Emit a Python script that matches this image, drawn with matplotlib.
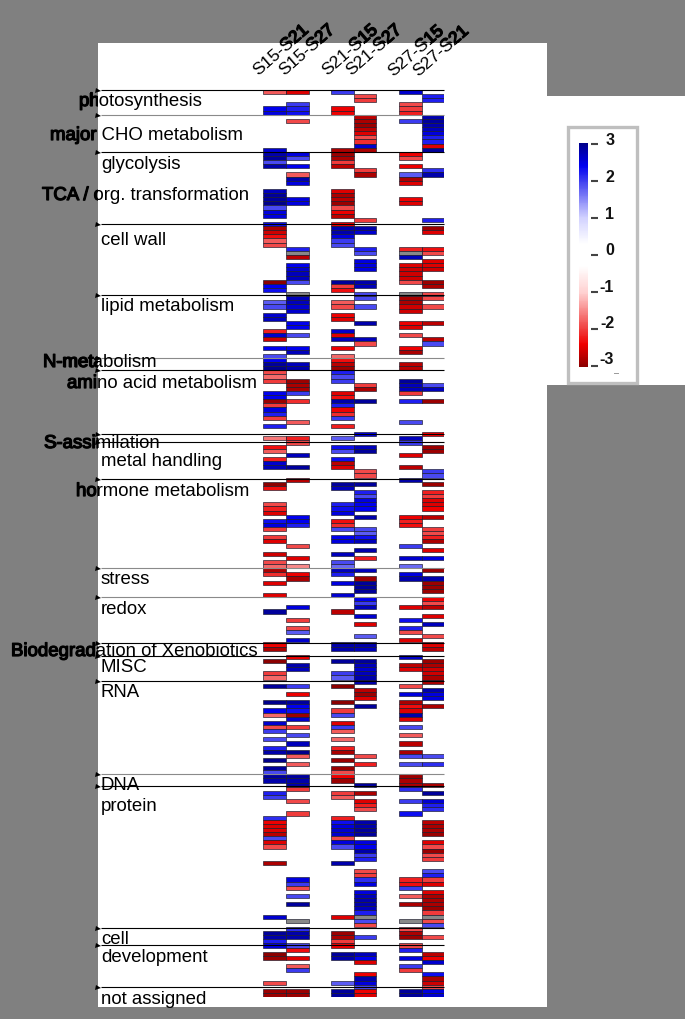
import numpy as np
import matplotlib
matplotlib.use("Agg")
import matplotlib.pyplot as plt
import matplotlib.patheffects as pe
from matplotlib.cm import ScalarMappable
from matplotlib.colors import LinearSegmentedColormap, Normalize
from matplotlib.patches import Rectangle

# ---- Config ----
OUTPUT_FIG = "out.png"
W, H = 685, 1019
nan = np.nan

plt.rcParams["font.family"] = ["Liberation Sans", "DejaVu Sans"]

# ---- Data: (row, log ratio) per comparison, empty rows are not listed ----
COMPARISONS = ["S15-S21", "S15-S27", "S21-S15", "S21-S27", "S27-S15", "S27-S21"]
COMPARISON_SLOTS = [0, 1, 3, 4, 6, 7]
N_ROWS = 220

S15_S21 = [(0,-1.8),(4,2.4),(5,2.5),(14,2.6),(15,2.8),(16,2.9),(17,1.9),(18,2.8),(24,2.7),(25,2.9),(26,2.9),(27,3),(28,1.9),(29,2.5),(30,2.5),
    (32,2.3),(33,-2.8),(34,-2.6),(35,-2.3),(36,-1.8),(37,-1.9),(46,-3),(47,2.4),(48,2.3),(51,1.8),(52,1.9),(54,2.6),(55,2.7),(58,-2.2),(59,2.6),(60,-2.6),
    (62,2.4),(64,1.9),(65,2.4),(66,2.9),(67,3),(68,-1.9),(69,-1.7),(70,-2),(73,2.4),(74,2.4),(75,-2.9),(76,-2),(77,2.5),(78,2.2),(79,-2),(81,2.2),(84,-1.6),
    (86,-2.3),(87,-1.8),(89,-2.2),(90,2.6),(91,2.7),(95,-3),(96,-2.3),(100,-1.9),(101,-2.2),(102,-2.5),(104,2.3),(105,2.5),(106,-2),(108,-2),(109,-2.5),
    (112,-2.6),(114,-1.9),(115,-1.7),(116,-2.8),(117,-2.1),(119,-2.5),(122,-2.5),(126,2.9),(134,-2.4),(135,-2.8),(138,-3),(141,-2),(142,-1.7),(144,2.9),
    (148,3),(150,2.4),(151,-1.7),(153,2.6),(154,-1.9),(155,2),(157,1.9),(159,2.2),(160,2.8),(162,3),(164,2.9),(165,1.9),(166,2.9),(167,2.8),(170,2.2),(171,2),
    (176,2.1),(177,-2.4),(178,-2.5),(179,-2.5),(180,-2.7),(181,1.9),(182,-2.5),(183,-1.9),(187,-2.8),(200,2.6),(204,2.9),(205,2.8),(206,2.2),(207,2.5),
    (209,-3),(210,-2.9),(216,-1.9),(218,-2.9),(219,-2.9)]

S15_S27 = [(0,-2.5),(3,2),(4,2.2),(5,2.3),(7,-1.9),(15,2.5),(16,1.9),(18,2.4),(20,-1.8),(21,2.8),(22,2.5),(26,2.5),(27,2.5),(38,2.2),(39,nan),(40,-2.7),
    (42,2.4),(43,2.6),(44,2.7),(45,2.7),(46,1.9),(49,nan),(50,2.7),(51,2.7),(52,2.6),(53,2.6),(56,2.4),(57,2.4),(59,1.9),(62,2.4),(63,2.7),(66,2.7),(67,2.8),
    (70,-2.9),(71,-2.8),(72,-2.8),(73,2),(75,-2.1),(80,-1.8),(84,-2.2),(85,-1.9),(88,2.7),(91,2.9),(94,-2.7),(103,2.4),(104,2.4),(105,2.2),(110,-1.9),(113,-2.5),
    (115,-1.5),(117,-2.4),(118,-2.8),(125,2.5),(128,-2),(130,-1.9),(131,1.8),(133,2.6),(137,-2.4),(139,2.8),(140,2.7),(144,2),(146,-2.4),(148,2.9),(149,2.4),
    (150,2.3),(151,-2.9),(152,2.6),(154,-2),(156,1.9),(158,2.7),(160,3),(161,-1.8),(163,-1.8),(166,2.9),(167,2.8),(168,2.8),(169,-2),(172,-1.9),(175,-2),
    (191,2.5),(192,2),(193,-1.9),(195,1.9),(197,2.9),(201,nan),(203,2.1),(204,2.8),(205,2.8),(207,1.9),(208,-2.3),(210,-2.5),(212,-1.8),(213,2),(218,-2.9),(219,-2.9)]

S21_S15 = [(0,2),(4,-2.4),(5,-2.4),(14,-2.8),(15,-2.9),(16,-2.8),(17,-2),(18,-2.7),(24,-2.5),(25,-2.8),(26,-2.7),(27,-2.9),(28,-1.9),(29,-2.4),(30,-2.7),
    (32,-2.4),(33,2.8),(34,2.8),(35,2.5),(36,2),(37,1.9),(46,2.9),(47,-2),(48,-2.3),(51,-1.8),(52,-1.9),(54,-2.4),(55,-2.5),(58,2.6),(59,-2.5),(60,2.7),(62,-2.4),
    (64,-1.7),(65,-2.3),(66,-2.7),(67,-2.9),(68,2.2),(69,1.9),(70,2),(73,-2.5),(74,-2.3),(75,2.8),(76,2.2),(77,-2.4),(78,-2.1),(79,2),(81,-2.2),(84,1.8),
    (86,2.3),(87,1.9),(89,2.3),(90,-2.7),(91,-2.5),(95,2.9),(96,2.7),(100,2.2),(101,2.3),(102,2.5),(104,-2.3),(105,-2.1),(106,1.9),(108,2.4),(109,2.5),
    (112,2.7),(114,1.9),(115,1.7),(116,2.7),(117,2.2),(119,2.5),(122,2.6),(126,-2.7),(134,2.8),(135,2.8),(138,2.9),(141,2),(142,1.8),(144,-3),(148,-3),
    (150,-2),(151,1.9),(153,-2.5),(154,2),(155,-1.8),(157,-1.7),(159,-2.2),(160,-2.8),(162,-2.9),(164,-2.9),(165,-1.9),(166,-2.4),(167,-2.9),(170,-2),(171,-1.8),
    (176,-2.2),(177,2.3),(178,2.5),(179,2.6),(180,2.6),(181,-1.9),(182,2.5),(183,1.9),(187,2.8),(200,-2.5),(204,-2.9),(205,-2.8),(206,-2),(207,-2.4),
    (209,2.9),(210,2.8),(216,1.8),(218,2.9),(219,2.9)]

S21_S27 = [(1,-1.9),(2,-2),(6,-2.7),(7,-2.8),(8,-2.9),(9,-2.7),(10,-2.5),(11,-1.9),(12,-2.1),(13,2.6),(14,-2.8),(19,-2),(20,-2.8),(31,-2),(33,2.8),(34,2.6),
    (38,2.2),(39,1.9),(41,2.5),(42,2.5),(43,2.5),(46,2.8),(47,2.7),(49,1.9),(50,1.9),(52,1.9),(56,2.8),(60,2.7),(61,-1.9),(71,-2),(72,-2.8),(75,2.9),(83,2.5),
    (86,2.7),(87,2.9),(92,-1.9),(93,-1.9),(95,2.9),(97,2.2),(98,1.9),(99,2.5),(100,2.4),(101,2.4),(103,2.8),(106,1.9),(107,1.8),(108,2.3),(109,2.7),(111,2.8),
    (113,-2.2),(116,2.7),(118,-2.9),(119,2.9),(120,2.9),(121,2.9),(123,2.4),(124,2),(125,2.7),(127,2.6),(129,-2.5),(132,1.8),(134,2.8),(135,2.7),
    (138,2.9),(139,2.7),(140,2.6),(141,2.7),(142,2.8),(143,2.8),(145,-2.7),(146,-2.9),(147,-2.5),(149,2.9),(161,-1.9),(163,-2.2),(168,2.9),(170,-2.8),
    (172,-2.5),(173,-2.2),(174,-1.9),(177,2.8),(178,2.8),(179,2.9),(180,2.9),(182,2.5),(183,2.4),(184,2.8),(185,2),(186,2.2),(189,-1.9),(190,-2),(191,2.1),(192,2.5),
    (194,2.5),(195,2.7),(196,2.8),(197,2.8),(198,2.7),(199,2.2),(200,nan),(201,1.9),(202,-1.9),(205,2),(209,2.7),(210,2.4),(211,-2.5),
    (214,-2.4),(215,2.8),(216,2.5),(217,1.9),(218,-2.4),(219,-2.5)]

S27_S15 = [(0,2.6),(3,-1.9),(4,-2),(5,-2.2),(7,2),(15,-2.4),(16,-1.9),(18,-2.4),(20,1.8),(21,-2.8),(22,-2.5),(26,-2.4),(27,-2.5),(38,-2.2),(39,nan),(40,2.7),
    (42,-2.5),(43,-2.6),(44,-2.6),(45,-2.6),(46,-1.9),(49,nan),(50,-2.8),(51,-2.8),(52,-2.6),(53,-2.6),(56,-2.4),(57,-2.5),(59,-1.9),(62,-2.4),(63,-2.8),(66,-2.7),(67,-2.7),
    (70,2.9),(71,2.7),(72,2.7),(73,-2),(75,2.2),(80,1.9),(84,2.7),(85,2),(88,-2.5),(91,-2.7),(94,2.8),(103,-2.4),(104,-2.2),(105,-2.3),(110,2),(113,2.6),(115,1.7),
    (117,2.5),(118,2.8),(125,-2.5),(128,2.3),(130,2.2),(131,-1.9),(133,-2.5),(137,2.6),(139,-2.7),(140,-2.5),(144,-1.9),(146,2.5),(148,-2.8),(149,-2.3),(150,-2.5),
    (151,2.8),(152,-2.5),(154,1.9),(156,-1.8),(158,-2.7),(160,-2.8),(161,1.9),(163,1.9),(166,-2.9),(167,-2.8),(168,-2.8),(169,2.1),(172,2),(175,2.3),
    (191,-2.2),(192,-2.3),(193,2),(195,-1.8),(197,-2.8),(201,nan),(203,-1.9),(204,-2.8),(205,-2.9),(207,-1.9),(208,2.2),(210,2.5),(212,2),(213,-2),(218,2.9),(219,2.9)]

S27_S21 = [(1,2.2),(2,2.2),(6,2.8),(7,2.9),(8,2.8),(9,2.7),(10,2.5),(11,2.2),(12,2.2),(13,-2.5),(14,2.9),(19,2.1),(20,2.8),(31,2.2),(33,-2.9),(34,-2.5),
    (38,-2.3),(39,-1.9),(41,-2.5),(42,-2.5),(43,-2.6),(46,-2.9),(47,-2.8),(49,-1.9),(50,-1.9),(52,-1.9),(56,-2.7),(60,-2.7),(61,1.9),(71,1.9),(72,2.7),(75,-2.9),(83,-2.4),
    (86,-2.9),(87,-2.9),(92,2),(93,1.9),(95,-2.9),(97,-2.2),(98,-2),(99,-2.5),(100,-2.5),(101,-2.4),(103,-2.7),(106,-2),(107,-1.9),(108,-2.2),(109,-2.8),(111,-2.5),
    (113,2.5),(116,-2.9),(118,2.8),(119,-2.9),(120,-2.9),(121,-2.9),(123,-2.4),(124,-1.9),(125,-2.7),(127,-2.5),(129,2.7),(132,-1.9),(134,-2.5),(135,-2.7),
    (138,-2.9),(139,-2.8),(140,-2.6),(141,-2.6),(142,-2.8),(143,-2.8),(145,2.8),(146,2.5),(147,2.5),(149,-2.8),(161,1.9),(163,2.1),(168,-2.8),(170,2.9),
    (172,2.6),(173,2.2),(174,2.1),(177,-2.7),(178,-2.8),(179,-2.8),(180,-2.9),(182,-2.5),(183,-1.9),(184,-2.9),(185,-1.9),(186,-2),(189,1.9),(190,2.2),(191,-2),(192,-2.5),
    (194,-2.5),(195,-2.8),(196,-2.8),(197,-2.8),(198,-2.9),(199,-2),(200,nan),(201,-1.9),(202,1.9),(205,-1.9),(209,-2.7),(210,-2.4),(211,2.6),
    (214,2.3),(215,-2.8),(216,-2.6),(217,-1.9),(218,2.5),(219,2.6)]

COLUMNS = [S15_S21, S15_S27, S21_S15, S21_S27, S27_S15, S27_S21]

# ---- Categories ----
CATEGORY_LABELS = ["photosynthesis", "major CHO metabolism", "glycolysis", "TCA / org. transformation", "cell wall",
    "lipid metabolism", "N-metabolism", "amino acid metabolism", "S-assimilation", "metal handling", "hormone metabolism",
    "stress", "redox", "Biodegradation of Xenobiotics", "MISC", "RNA", "DNA", "protein", "cell", "development", "not assigned"]
LABEL_X = [79, 50, 101, 42, 101, 101, 43, 67, 44, 101, 76, 101, 101, 11, 101, 101, 101, 101, 101, 101, 101]
LABEL_BASE = [106, 140, 169, 200, 245, 311, 367, 388, 448, 466, 496, 584, 614, 656, 672, 697, 790, 811, 944, 962, 1004]
RULE_Y = [90, 115, 152, 224, 295, 358, 370, 434, 442, 479, 568, 597, 643, 656, 681, 774, 786, 928, 945, 987]
RULE_GREY = [115, 358, 568, 597, 774]

HEADER_X = [258, 284, 327, 351, 393, 418]
HEADER_Y = [76, 76, 76, 76, 77, 77]

LEGEND_TICKS = [3, 2, 1, 0, -1, -2, -3]
LEGEND_LABEL_X = [610, 610, 610, 610, 607, 608, 607]
LEGEND_LABEL_Y = [140, 177, 214, 250, 287, 324, 359]


def add_px_axes(fig, left, top, right, bottom, zorder):
    # axes placed with pixel edges measured from the top-left corner
    ax = fig.add_axes([left / W, 1 - bottom / H, (right - left) / W, (bottom - top) / H], zorder=zorder)
    ax.patch.set_alpha(0)
    return ax


def main():
    fig = plt.figure(figsize=(W / 100, H / 100), dpi=100, facecolor="#808080")

    # white stays flat around zero, key is pale up to +-1
    cmap = LinearSegmentedColormap.from_list(
        "rwb",
        [(0, "#8b0000"), (0.1, "#f00000"), (0.17, "#f04040"), (0.33, "#ffd0d0"), (0.45, "#ffffff"),
         (0.55, "#ffffff"), (0.67, "#d0d0ff"), (0.83, "#4040f0"), (0.9, "#0000f0"), (1, "#00008b")],
    )
    cmap.set_bad("#888888")
    norm = Normalize(-3, 3)

    # 1) Page: white panels behind everything
    page = add_px_axes(fig, 0, 0, W, H, 0)
    page.set_xlim(0, W)
    page.set_ylim(H, 0)
    page.axis("off")
    page.add_patch(Rectangle((98, 43), 449, 964, facecolor="white", edgecolor="none"))
    page.add_patch(Rectangle((547, 96), 138, 289, facecolor="white", edgecolor="none"))
    page.add_patch(Rectangle((568, 127), 69, 256, facecolor="white", edgecolor="#bfbfbf", linewidth=2.4))

    # 2) Heat map cells
    heat = add_px_axes(fig, 263.3, 90, 444.1, 997, 1)
    heat.set_xlim(0, 8)
    heat.set_ylim(N_ROWS, 0)
    heat.axis("off")
    for slot, cells in zip(COMPARISON_SLOTS, COLUMNS):
        rows = np.array([c[0] for c in cells])
        vals = np.ma.masked_invalid([c[1] for c in cells])
        heat.barh(rows + 0.5, 1, left=slot, height=1, color=cmap(norm(vals)),
                  edgecolor="#181828", linewidth=0.45)

    # 3) Rules, triangles and text on top
    over = add_px_axes(fig, 0, 0, W, H, 2)
    over.set_xlim(0, W)
    over.set_ylim(H, 0)
    over.axis("off")
    for y in RULE_Y:
        over.plot([101, 444], [y, y], color="#8a8a8a" if y in RULE_GREY else "black", linewidth=0.8,
                  solid_capstyle="butt")
    over.plot([98.5] * len(RULE_Y), [y + 0.5 for y in RULE_Y], linestyle="none", marker=">", markersize=3.6,
              color="black", markeredgewidth=0)

    grey_left = Rectangle((0, 0), 98, H, transform=over.transData)
    grey_top = Rectangle((0, 0), W, 43, transform=over.transData)
    bold = [pe.withStroke(linewidth=0.9, foreground="black")]

    for label, x, y in zip(CATEGORY_LABELS, LABEL_X, LABEL_BASE):
        over.text(x, y, label, fontsize=13.4, va="baseline", ha="left", color="black")
        if x < 98:
            # text over the grey margin reads heavier in the original
            t = over.text(x, y, label, fontsize=13.4, va="baseline", ha="left", color="black", path_effects=bold)
            t.set_clip_path(grey_left)
            t.set_clip_on(True)

    for label, x, y in zip(COMPARISONS, HEADER_X, HEADER_Y):
        over.text(x, y, label, fontsize=12.6, rotation=41, rotation_mode="anchor", ha="left", va="baseline")
        t = over.text(x, y, label, fontsize=12.6, rotation=41, rotation_mode="anchor", ha="left", va="baseline",
                      path_effects=bold)
        t.set_clip_path(grey_top)
        t.set_clip_on(True)

    # 4) Colour key
    cax = add_px_axes(fig, 579, 143, 588, 367, 1)
    cbar = fig.colorbar(ScalarMappable(norm=norm, cmap=cmap), cax=cax, orientation="vertical")
    cbar.outline.set_visible(False)
    cbar.set_ticks([])
    key_y = 255 - 37 * np.array(LEGEND_TICKS)
    for y in key_y:
        over.plot([591, 598], [y, y], color="#444444", linewidth=1.5, solid_capstyle="butt")
    over.plot([614, 618], [373, 373], color="#999999", linewidth=0.7)
    for val, x, y in zip(LEGEND_TICKS, LEGEND_LABEL_X, LEGEND_LABEL_Y):
        over.text(x, y, str(val), fontsize=11.5, fontweight="bold", ha="center", va="center", color="#111111")

    fig.savefig(OUTPUT_FIG, dpi=100, facecolor=fig.get_facecolor())
    print(f"Saved: {OUTPUT_FIG}")


if __name__ == "__main__":
    main()
